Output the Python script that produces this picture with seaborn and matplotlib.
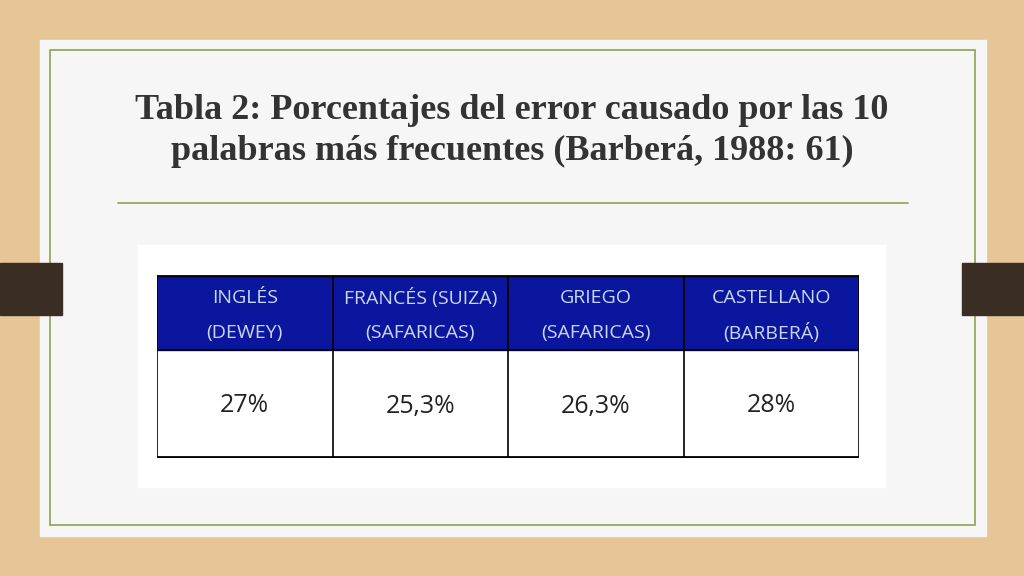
import matplotlib
matplotlib.use("Agg")
import matplotlib.pyplot as plt
import seaborn as sns
import numpy as np
from matplotlib.patches import Rectangle

title = "Tabla 2: Porcentajes del error causado por las 10\npalabras más frecuentes (Barberá, 1988: 61)"
languages = ["INGLÉS", "FRANCÉS (SUIZA)", "GRIEGO", "CASTELLANO"]
sources = ["(DEWEY)", "(SAFARICAS)", "(SAFARICAS)", "(BARBERÁ)"]
values = [27, 25.3, 26.3, 28]
value_labels = ["27%", "25,3%", "26,3%", "28%"]

sns.set_style("white")
fig = plt.figure(figsize=(10.24, 5.76), dpi=100)
fig.patch.set_facecolor("#e6c696")
ax = fig.add_axes([0, 0, 1, 1])
ax.set_xlim(0, 1024); ax.set_ylim(576, 0); ax.axis("off")
ax.set_facecolor("#e6c696")

# panel
ax.add_patch(Rectangle((40, 40), 946, 496, color="#f6f6f6", zorder=2))
ax.add_patch(Rectangle((50, 50), 925, 475, fill=False, ec="#8ea24e", lw=1.2, zorder=3))
# tabs
ax.add_patch(Rectangle((0, 263), 62, 52, color="#3a2e24", zorder=3.5))
ax.add_patch(Rectangle((962, 263), 62, 52, color="#3a2e24", zorder=3.5))
ax.text(512, 131, title, ha="center", va="center", fontsize=26, fontweight="bold",
        family="Liberation Serif", color="#333333", linespacing=1.35, zorder=4)
ax.plot([118, 908], [203, 203], color="#8ea24e", lw=1.2, zorder=4)
ax.add_patch(Rectangle((138, 245), 747, 242, color="white", zorder=4))

# table axes (seaborn styled)
tax = fig.add_axes([157/1024, 1-458/576, (859-157)/1024, (458-275)/576], zorder=5)
grid = np.array([[1]*len(values)])
sns.heatmap(grid, ax=tax, cmap=matplotlib.colors.ListedColormap(["#0b169f"]),
            cbar=False, linewidths=0, xticklabels=False, yticklabels=False)
tax.cla()
tax.set_xlim(0, 4); tax.set_ylim(183, 0); tax.axis("off")
for i in range(4):
    tax.add_patch(Rectangle((i, 0), 1, 75, color="#0b169f"))
    tax.text(i + 0.5, 23, languages[i], ha="center", va="center", fontsize=14,
             family="Open Sans", color="#c9d6ee")
    tax.text(i + 0.5, 58, sources[i], ha="center", va="center", fontsize=14,
             family="Open Sans", color="#c9d6ee")
    tax.text(i + 0.5, 131, value_labels[i], ha="center", va="center", fontsize=18,
             family="Open Sans", color="#222222")
for i in range(5):
    tax.plot([i, i], [0, 183], color="black", lw=1.2)
tax.plot([0, 4], [75, 75], color="black", lw=1.2)
tax.plot([0, 4], [182, 182], color="black", lw=2)
tax.plot([0, 4], [0.5, 0.5], color="black", lw=1)

fig.savefig("out.png", dpi=100, facecolor=fig.get_facecolor())
